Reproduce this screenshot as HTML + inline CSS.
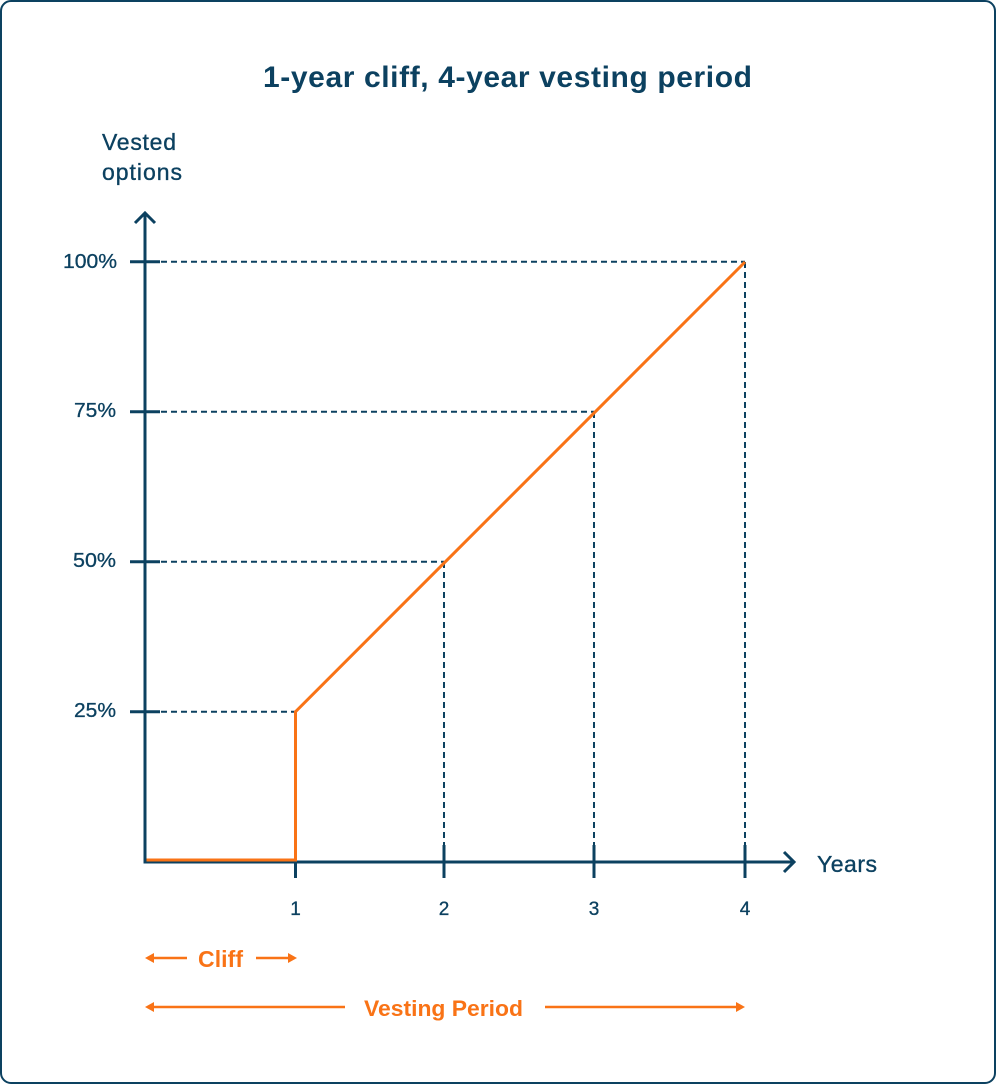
<!DOCTYPE html>
<html>
<head>
<meta charset="utf-8">
<style>
  html,body{margin:0;padding:0;background:#fff;}
  svg{display:block;}
  text{font-family:"Liberation Sans","DejaVu Sans",sans-serif;}
</style>
</head>
<body>
<svg width="996" height="1084" viewBox="0 0 996 1084" xmlns="http://www.w3.org/2000/svg">
  <rect x="1" y="1" width="994" height="1082" rx="10" ry="10" fill="#ffffff" stroke="#0c4160" stroke-width="2"/>

  <!-- Title -->
  <text x="507.5" y="87" text-anchor="middle" font-size="30" font-weight="bold" fill="#0c4160" textLength="489" lengthAdjust="spacing">1-year cliff, 4-year vesting period</text>

  <!-- Y axis label -->
  <g fill="#0c4160" stroke="#0c4160" stroke-width="0.35">
    <text x="102" y="150" font-size="23" textLength="74" lengthAdjust="spacing">Vested</text>
    <text x="102" y="180" font-size="23" textLength="80" lengthAdjust="spacing">options</text>
  </g>

  <!-- Dashed guide lines -->
  <g stroke="#0c4160" stroke-width="2" stroke-dasharray="6 4" fill="none">
    <line x1="161" y1="261.7" x2="745" y2="261.7"/>
    <line x1="161" y1="411.7" x2="594" y2="411.7"/>
    <line x1="161" y1="561.7" x2="444" y2="561.7"/>
    <line x1="161" y1="711.7" x2="295" y2="711.7"/>
    <line x1="745" y1="262" x2="745" y2="845"/>
    <line x1="594" y1="412" x2="594" y2="845"/>
    <line x1="444" y1="562" x2="444" y2="845"/>
  </g>

  <!-- Axes -->
  <g stroke="#0c4160" stroke-width="3" fill="none" stroke-linecap="butt">
    <line x1="145" y1="213" x2="145" y2="863.5"/>
    <polyline points="135,223 145,213 155,223" stroke-linejoin="miter"/>
    <line x1="143.5" y1="862" x2="794" y2="862"/>
    <polyline points="784,852 794,862 784,872" stroke-linejoin="miter"/>
    <!-- y ticks -->
    <line x1="130" y1="261.7" x2="160" y2="261.7"/>
    <line x1="130" y1="411.7" x2="160" y2="411.7"/>
    <line x1="130" y1="561.7" x2="160" y2="561.7"/>
    <line x1="130" y1="711.7" x2="160" y2="711.7"/>
    <!-- x ticks -->
    <line x1="295.5" y1="845" x2="295.5" y2="878"/>
    <line x1="444" y1="845" x2="444" y2="878"/>
    <line x1="594" y1="845" x2="594" y2="878"/>
    <line x1="745" y1="845" x2="745" y2="878"/>
  </g>

  <!-- Y tick labels -->
  <g font-size="20" fill="#0c4160" stroke="#0c4160" stroke-width="0.3" text-anchor="end">
    <text x="117" y="268" textLength="54" lengthAdjust="spacingAndGlyphs">100%</text>
    <text x="116" y="417" textLength="42" lengthAdjust="spacingAndGlyphs">75%</text>
    <text x="116" y="567" textLength="43" lengthAdjust="spacingAndGlyphs">50%</text>
    <text x="116" y="717" textLength="42" lengthAdjust="spacingAndGlyphs">25%</text>
  </g>

  <!-- X tick labels -->
  <g font-size="19" fill="#0c4160" stroke="#0c4160" stroke-width="0.3" text-anchor="middle">
    <text x="295.5" y="915">1</text>
    <text x="444" y="915">2</text>
    <text x="594" y="915">3</text>
    <text x="745" y="915">4</text>
  </g>
  <text x="817" y="872" font-size="23" fill="#0c4160" stroke="#0c4160" stroke-width="0.35" textLength="60" lengthAdjust="spacing">Years</text>

  <!-- Vesting line -->
  <polyline points="146.5,860 295.5,860 295.5,711.7 745,262" fill="none" stroke="#f97316" stroke-width="3" stroke-linejoin="miter"/>

  <!-- Cliff annotation -->
  <g stroke="#f97316" stroke-width="2.5" fill="none">
    <line x1="152" y1="958" x2="187" y2="958"/>
    <line x1="256" y1="958" x2="290" y2="958"/>
    <line x1="152" y1="1007" x2="345" y2="1007"/>
    <line x1="545" y1="1007" x2="738" y2="1007"/>
  </g>
  <g fill="#f97316">
    <polygon points="145,958 154,953 154,963"/>
    <polygon points="297,958 288,953 288,963"/>
    <polygon points="145,1007 154,1002 154,1012"/>
    <polygon points="745,1007 736,1002 736,1012"/>
  </g>
  <text x="198" y="967" font-size="23" font-weight="bold" fill="#f97316" textLength="45" lengthAdjust="spacing">Cliff</text>
  <text x="364" y="1016" font-size="22" font-weight="bold" fill="#f97316" textLength="159" lengthAdjust="spacingAndGlyphs">Vesting Period</text>
</svg>
</body>
</html>
